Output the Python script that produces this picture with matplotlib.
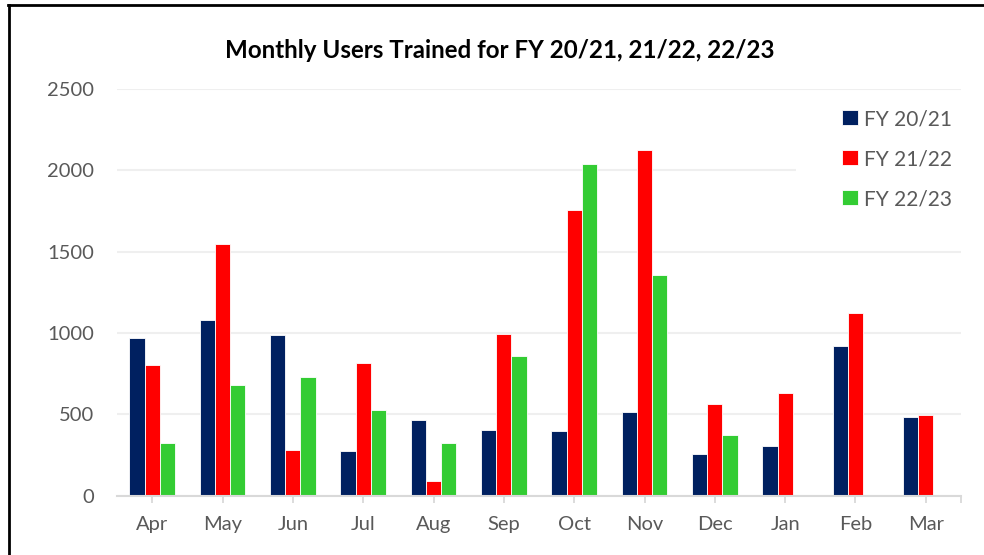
import matplotlib
matplotlib.use("Agg")
import matplotlib.pyplot as plt
from matplotlib.lines import Line2D
from matplotlib.patches import Rectangle
import numpy as np

months = ["Apr", "May", "Jun", "Jul", "Aug", "Sep", "Oct", "Nov", "Dec", "Jan", "Feb", "Mar"]
series_names = ["FY 20/21", "FY 21/22", "FY 22/23"]
fy2021 = [970, 1082, 990, 276, 466, 401, 395, 513, 258, 303, 918, 481]
fy2122 = [806, 1546, 282, 814, 92, 996, 1755, 2123, 565, 630, 1121, 499]
fy2223 = [321, 681, 728, 525, 321, 859, 2037, 1356, 374, 0, 0, 0]
colors = ["#002060", "#FF0000", "#33CC33"]
yticks = [0, 500, 1000, 1500, 2000, 2500]

plt.rcParams['font.family'] = ['Lato', 'DejaVu Sans']

W, H = 984, 555
fig = plt.figure(figsize=(W / 100, H / 100), dpi=100)
fig.patch.set_facecolor("white")

def fx(px):
    return px / W

def fy(py):
    return 1 - py / H

ax_left, ax_right, ax_top, ax_bot = 117, 961, 89, 495.7
ax = fig.add_axes([fx(ax_left), fy(ax_bot), fx(ax_right - ax_left), (ax_bot - ax_top) / H])

x = np.arange(len(months))
bw = 0.218
for i, (vals, c, name) in enumerate(zip([fy2021, fy2122, fy2223], colors, series_names)):
    ax.bar(x + (i - 1) * bw, vals, width=bw, color=c, edgecolor="white",
           linewidth=0.6, label=name, zorder=2)

ax.set_xlim(-0.5, len(months) - 0.5)
ax.set_ylim(0, 2500)
ax.set_yticks(yticks)
ax.set_axisbelow(True)
ax.yaxis.grid(True, color="#EFEFEF", linewidth=1.5, zorder=0.5)
for s in ["left", "right", "top"]:
    ax.spines[s].set_visible(False)
ax.spines["bottom"].set_color("#D9D9D9")
ax.spines["bottom"].set_linewidth(1.5)

ax.set_xticks(x)
ax.set_xticklabels(months)
ax.set_xticks([len(months) - 0.5], minor=True)
ax.tick_params(axis="x", which="both", length=5, width=1.3, color="#D9D9D9",
               labelsize=14.5, labelcolor="#595959", pad=9.5)
ax.tick_params(axis="y", length=0, labelsize=14.5, labelcolor="#595959", pad=16.5)

# white legend area covering gridlines
ax.add_patch(Rectangle((fx(796), fy(240)), fx(961 - 796), (240 - 100) / H,
                       transform=fig.transFigure, facecolor="white",
                       edgecolor="none", zorder=1))

leg = ax.legend(loc="upper left", bbox_to_anchor=(fx(840), fy(107)),
                bbox_transform=fig.transFigure, frameon=False,
                fontsize=15, handlelength=0.75, handleheight=0.75,
                handletextpad=0.3, labelspacing=0.96, borderpad=0.1,
                borderaxespad=0)
for t in leg.get_texts():
    t.set_color("#595959")

fig.text(fx(500), fy(51), "Monthly Users Trained for FY 20/21, 21/22, 22/23",
         ha="center", va="center", fontsize=17.4, fontweight="bold", color="black")

# outer border (top and left)
fig.add_artist(Line2D([fx(8), 1], [fy(5), fy(5)], transform=fig.transFigure,
                      color="black", linewidth=2))
fig.add_artist(Line2D([fx(9), fx(9)], [fy(5), 0], transform=fig.transFigure,
                      color="black", linewidth=2))

fig.savefig("out.png", dpi=100, facecolor="white")
